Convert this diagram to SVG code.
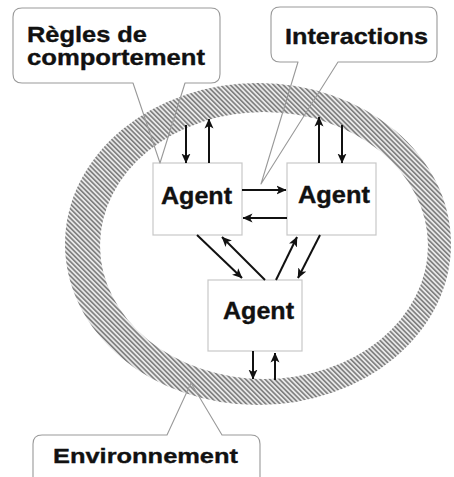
<svg xmlns="http://www.w3.org/2000/svg" width="454" height="477" viewBox="0 0 454 477">
<defs>
<pattern id="hatch" patternUnits="userSpaceOnUse" width="3.4" height="3.4" patternTransform="rotate(-45)">
<rect width="3.4" height="3.4" fill="#e8e8e8"/>
<rect width="1.6" height="3.4" fill="#7d7d7d"/>
</pattern>
<marker id="arr" viewBox="0 0 10 10" refX="9.5" refY="5" markerWidth="10" markerHeight="10" markerUnits="userSpaceOnUse" orient="auto">
<path d="M0,0.5 L10,5 L0,9.5 L2.5,5 Z" fill="#111"/>
</marker>
<style>
.box{fill:#fff;stroke:#c8c8c8;stroke-width:1.2}
.lbl{font-family:"Liberation Sans",Arial,sans-serif;font-weight:bold;fill:#111;stroke:#111;stroke-width:0.35}
.call{fill:none;stroke:#999;stroke-width:1.1;stroke-linejoin:round}
.ar{stroke:#111;stroke-width:2;fill:none;marker-end:url(#arr)}
</style>
</defs>
<rect width="454" height="477" fill="#fff"/>
<g id="environnement">
<path d="M65,244 A193,161 0 1 0 451,244 A193,161 0 1 0 65,244 Z M100,245.5 A164,133.5 0 1 1 428,245.5 A164,133.5 0 1 1 100,245.5 Z" fill="url(#hatch)" fill-rule="evenodd"/>
</g>
<g id="agent1">
<rect class="box" x="153" y="163" width="89" height="72"/>
<text class="lbl" x="161" y="204" font-size="23" textLength="71" lengthAdjust="spacingAndGlyphs">Agent</text>
</g>
<g id="agent2">
<rect class="box" x="287" y="163" width="89" height="72"/>
<text class="lbl" x="298" y="203" font-size="23" textLength="72" lengthAdjust="spacingAndGlyphs">Agent</text>
</g>
<g id="agent3">
<rect class="box" x="208" y="280" width="94" height="71"/>
<text class="lbl" x="223" y="319" font-size="23" textLength="71" lengthAdjust="spacingAndGlyphs">Agent</text>
</g>
<g id="connectors">
<line class="ar" x1="186" y1="125" x2="186" y2="163"/>
<line class="ar" x1="209" y1="163" x2="209" y2="119"/>
<line class="ar" x1="319" y1="163" x2="319" y2="117"/>
<line class="ar" x1="342" y1="125" x2="342" y2="163"/>
<line class="ar" x1="242" y1="190" x2="286" y2="190"/>
<line class="ar" x1="287" y1="218" x2="243" y2="218"/>
<line class="ar" x1="197" y1="235" x2="242" y2="278"/>
<line class="ar" x1="265" y1="280" x2="222" y2="237"/>
<line class="ar" x1="276" y1="280" x2="297" y2="237"/>
<line class="ar" x1="320" y1="235" x2="298" y2="278"/>
<line class="ar" x1="253" y1="351" x2="253" y2="379"/>
<line class="ar" x1="275" y1="380" x2="275" y2="353"/>
</g>
<g id="label-regles">
<path class="call" d="M22,8 H211 Q220,8 220,17 V74 Q220,83 211,83 H185 L160,163 L133,83 H22 Q13,83 13,74 V17 Q13,8 22,8 Z"/>
<text class="lbl" x="27" y="42" font-size="22" textLength="120" lengthAdjust="spacingAndGlyphs">Règles de</text>
<text class="lbl" x="27" y="65" font-size="22" textLength="178" lengthAdjust="spacingAndGlyphs">comportement</text>
</g>
<g id="label-interactions">
<path class="call" d="M280,7 H428 Q437,7 437,16 V53 Q437,62 428,62 H338 L261,184 L298,62 H280 Q271,62 271,53 V16 Q271,7 280,7 Z"/>
<text class="lbl" x="285" y="44" font-size="22" textLength="143" lengthAdjust="spacingAndGlyphs">Interactions</text>
</g>
<g id="label-environnement">
<path class="call" d="M33,482 V444 Q33,435 42,435 H167 L191,383 L222,435 H251 Q260,435 260,444 V482"/>
<text class="lbl" x="53" y="463" font-size="21" textLength="185" lengthAdjust="spacingAndGlyphs">Environnement</text>
</g>
</svg>
